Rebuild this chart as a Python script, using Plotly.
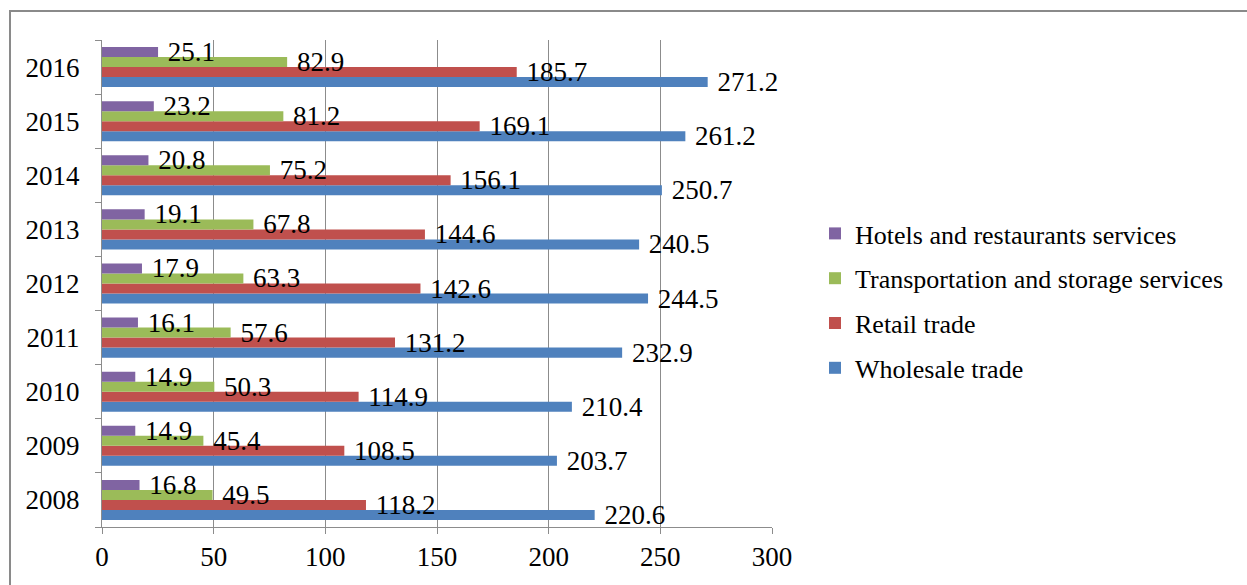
import plotly.graph_objects as go

years = ["2008", "2009", "2010", "2011", "2012", "2013", "2014", "2015", "2016"]
wholesale = [220.6, 203.7, 210.4, 232.9, 244.5, 240.5, 250.7, 261.2, 271.2]
retail = [118.2, 108.5, 114.9, 131.2, 142.6, 144.6, 156.1, 169.1, 185.7]
transport = [49.5, 45.4, 50.3, 57.6, 63.3, 67.8, 75.2, 81.2, 82.9]
hotels = [16.8, 14.9, 14.9, 16.1, 17.9, 19.1, 20.8, 23.2, 25.1]

series = [
    ("Wholesale trade", wholesale, "#4F81BD", 4),
    ("Retail trade", retail, "#C0504D", 3),
    ("Transportation and storage services", transport, "#9BBB59", 2),
    ("Hotels and restaurants services", hotels, "#8064A2", 1),
]

FONT = "'Times New Roman', 'Liberation Serif', Times, serif"

fig = go.Figure()
for name, vals, color, rank in series:
    fig.add_trace(go.Bar(
        y=years, x=vals, name=name, orientation="h",
        marker=dict(color=color, line=dict(width=0)),
        texttemplate="\u00a0%{x:.1f}",
        textposition="outside", constraintext="none", cliponaxis=False,
        textfont=dict(family=FONT, size=27, color="black"),
        legendgroup=name, legendrank=rank,
    ))

W, H = 1247, 585
L, R, T, B = 102, 475, 40, 58
pw, ph = W - L - R, H - T - B

def px_x(p):
    return (p - L) / pw

def px_y(p):
    return (H - B - p) / ph

fig.update_layout(
    width=W, height=H,
    margin=dict(l=L, r=R, t=T, b=B),
    paper_bgcolor="white", plot_bgcolor="white",
    barmode="group", bargap=0.26, bargroupgap=0,
    font=dict(family=FONT, color="black"),
    legend=dict(
        x=px_x(815), y=px_y(210), xanchor="left", yanchor="top",
        traceorder="grouped", tracegroupgap=8,
        font=dict(family=FONT, size=26, color="black"),
        itemwidth=30,
    ),
    xaxis=dict(
        range=[0, 300], dtick=50, tick0=0,
        showgrid=True, gridcolor="#8c8c8c", gridwidth=1,
        showline=True, linecolor="#8c8c8c", linewidth=1,
        ticks="outside", ticklen=6, tickcolor="#8c8c8c",
        tickfont=dict(family=FONT, size=27, color="black"),
        zeroline=False, fixedrange=True,
    ),
    yaxis=dict(
        type="category", categoryorder="array", categoryarray=years,
        showline=True, linecolor="#8c8c8c", linewidth=1,
        ticks="outside", ticklen=6, tickcolor="#8c8c8c", tickson="boundaries",
        ticklabelstandoff=16,
        tickfont=dict(family=FONT, size=27, color="black"),
        showgrid=False, fixedrange=True,
    ),
    shapes=[dict(
        type="rect", xref="paper", yref="paper",
        x0=px_x(10), x1=px_x(1260), y0=px_y(600), y1=px_y(11),
        line=dict(color="#8a8a8a", width=2), fillcolor="rgba(0,0,0,0)",
        layer="below",
    )],
)

fig.write_html("out.html")
